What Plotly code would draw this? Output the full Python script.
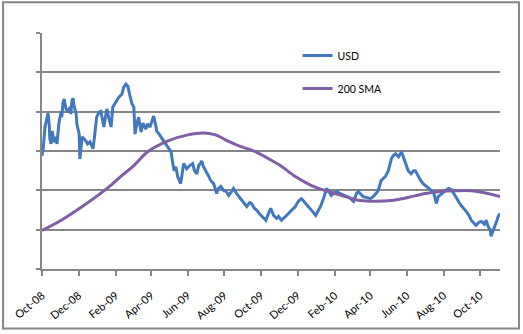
import pandas as pd
import plotly.graph_objects as go

START = "2008-10-01"

USD_DAY = [0, 2, 5, 8, 10, 12, 13, 15, 17, 20, 23, 25, 28, 32, 33, 35, 37, 40, 43, 47,
           48, 50, 52, 53, 57, 58, 62, 63, 65, 67, 70, 73, 76, 80, 83, 85, 88, 91, 95, 98,
           103, 108, 111, 115, 118, 121, 125, 128, 133, 136, 140, 143, 146, 150, 153, 155, 158, 161, 165, 168,
           173, 176, 180, 183, 186, 190, 191, 195, 198, 203, 206, 211, 215, 218, 220, 223, 226, 231, 234, 236,
           241, 246, 251, 254, 258, 261, 264, 266, 269, 273, 278, 281, 286, 291, 294, 298, 303, 306, 311, 316,
           319, 324, 328, 333, 338, 341, 346, 349, 354, 358, 363, 366, 369, 373, 378, 381, 386, 391, 394, 399,
           404, 407, 412, 416, 419, 422, 427, 432, 436, 439, 444, 447, 452, 456, 461, 464, 469, 474, 477, 482,
           487, 491, 496, 501, 506, 511, 514, 519, 524, 527, 532, 535, 540, 547, 552, 555, 560, 565, 569, 572,
           577, 582, 585, 589, 594, 599, 602, 605, 610, 615, 619, 622, 627, 630, 635, 640, 644, 649, 652, 655,
           657, 660, 664, 669, 674, 677, 682, 687, 690, 695, 698, 703, 707, 712, 715, 720, 723, 728, 732, 737,
           740, 743, 747, 748, 752, 755, 758, 760, 763]
USD_VAL = [2.88, 3.06, 3.61, 3.86, 3.96, 3.69, 3.31, 3.18, 3.51, 3.23, 3.36, 3.18, 3.69, 4.01, 3.86, 4.24, 4.32, 4.07, 3.99, 4.12,
           3.94, 4.29, 4.34, 4.17, 3.94, 3.69, 3.43, 2.80, 3.06, 3.36, 3.31, 3.26, 3.18, 3.23, 3.13, 3.06, 3.43, 3.86, 3.99, 4.01,
           3.61, 4.07, 3.86, 3.61, 4.12, 4.19, 4.27, 4.37, 4.44, 4.62, 4.70, 4.65, 4.44, 4.19, 4.12, 3.43, 3.69, 3.86, 3.48, 3.71,
           3.56, 3.69, 3.61, 3.76, 3.89, 3.61, 3.51, 3.43, 3.36, 3.23, 3.18, 3.06, 2.98, 2.68, 2.50, 2.60, 2.35, 2.17, 2.50, 2.68,
           2.55, 2.63, 2.68, 2.50, 2.42, 2.63, 2.68, 2.75, 2.60, 2.50, 2.35, 2.25, 2.17, 1.92, 2.05, 2.10, 1.99, 1.99, 1.87, 1.97,
           2.05, 1.92, 1.84, 1.72, 1.64, 1.59, 1.69, 1.67, 1.54, 1.49, 1.39, 1.34, 1.29, 1.24, 1.44, 1.54, 1.36, 1.29, 1.34, 1.24,
           1.31, 1.36, 1.44, 1.49, 1.54, 1.59, 1.72, 1.79, 1.72, 1.67, 1.59, 1.54, 1.44, 1.36, 1.49, 1.59, 1.79, 2.05, 1.99, 1.87,
           1.94, 1.97, 1.92, 1.89, 1.84, 1.82, 1.79, 1.72, 1.92, 1.97, 1.89, 1.84, 1.82, 1.79, 1.84, 1.89, 1.99, 2.25, 2.30, 2.35,
           2.50, 2.80, 2.88, 2.93, 2.85, 2.98, 2.85, 2.73, 2.50, 2.42, 2.50, 2.50, 2.35, 2.27, 2.17, 2.10, 2.05, 1.99, 1.97, 1.79,
           1.67, 1.84, 1.89, 1.97, 2.02, 2.05, 2.02, 1.89, 1.79, 1.69, 1.62, 1.54, 1.46, 1.34, 1.24, 1.16, 1.11, 1.19, 1.21, 1.14,
           1.24, 1.09, 0.98, 0.83, 0.98, 1.11, 1.24, 1.34, 1.41]

# 200-day simple moving average
SMA_DAY = [0, 32, 70, 110, 131, 153, 176, 210, 243, 269, 289, 309, 328, 356, 378,
           397, 422, 449, 477, 506, 530, 555, 582, 610, 639, 664, 688, 715, 743, 763]
SMA_VAL = [0.98, 1.24, 1.62, 2.07, 2.35, 2.63, 2.98, 3.26, 3.41, 3.46, 3.41, 3.26, 3.13, 2.98, 2.80,
           2.63, 2.35, 2.12, 1.97, 1.84, 1.74, 1.72, 1.74, 1.82, 1.92, 1.97, 1.99, 1.99, 1.92, 1.84]

TICK_DATES = ["2008-10-01", "2008-12-01", "2009-02-01", "2009-04-01", "2009-06-01", "2009-08-01",
              "2009-10-01", "2009-12-01", "2010-02-01", "2010-04-01", "2010-06-01", "2010-08-01", "2010-10-01"]
TICK_TEXT = ["Oct-08", "Dec-08", "Feb-09", "Apr-09", "Jun-09", "Aug-09", "Oct-09",
             "Dec-09", "Feb-10", "Apr-10", "Jun-10", "Aug-10", "Oct-10"]

start = pd.Timestamp(START)
usd_x = [start + pd.Timedelta(days=d) for d in USD_DAY]
sma_x = [start + pd.Timedelta(days=d) for d in SMA_DAY]

GRAY = "#868686"

fig = go.Figure()
fig.add_trace(go.Scatter(x=usd_x, y=USD_VAL, mode="lines", name="USD",
                         line=dict(color="#4178be", width=3), legendgroup="a"))
fig.add_trace(go.Scatter(x=sma_x, y=SMA_VAL, mode="lines", name="200 SMA",
                         line=dict(color="#7f5fa5", width=3, shape="spline", smoothing=1.0),
                         legendgroup="b"))

fig.update_layout(
    width=523, height=334,
    margin=dict(l=41, r=23, t=33, b=63),
    paper_bgcolor="white", plot_bgcolor="white",
    font=dict(family="Lato, sans-serif", size=11, color="#000000"),
    legend=dict(x=0.558, y=0.966, xanchor="left", yanchor="top",
                bgcolor="rgba(0,0,0,0)", tracegroupgap=14,
                font=dict(size=10.5), itemwidth=30),
    shapes=[dict(type="rect", xref="paper", yref="paper",
                 x0=-0.085, x1=1.0414, y0=-0.252, y1=1.13,
                 line=dict(color=GRAY, width=2))],
)
fig.update_xaxes(type="date", range=[START, "2010-11-03"],
                 tickvals=TICK_DATES, ticktext=TICK_TEXT, tickangle=-40,
                 ticks="outside", ticklen=5, tickcolor=GRAY, tickwidth=2,
                 ticklabelstandoff=9,
                 showline=True, linecolor=GRAY, linewidth=2, showgrid=False,
                 zeroline=False, tickfont=dict(size=11))
fig.update_yaxes(range=[0, 6], dtick=1, showticklabels=False,
                 ticks="outside", ticklen=4, tickcolor=GRAY, tickwidth=2,
                 showline=True, linecolor=GRAY, linewidth=2,
                 showgrid=True, gridcolor=GRAY, gridwidth=1.5, zeroline=False)

fig.write_html("out.html")
